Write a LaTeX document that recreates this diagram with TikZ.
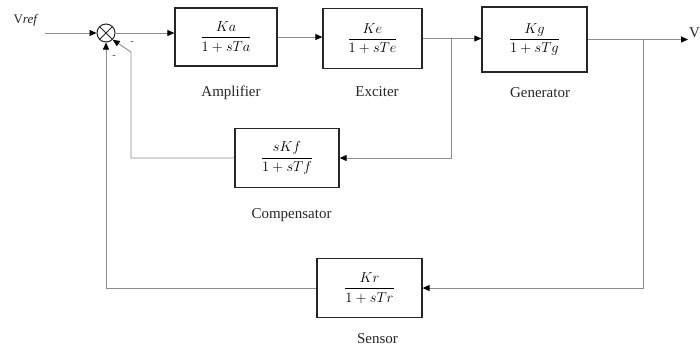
\documentclass[tikz,border=0pt]{standalone}
\usepackage{amsmath}
\usepackage{fontspec}
\setmainfont{Liberation Serif}
\usetikzlibrary{arrows.meta}
\begin{document}
\begin{tikzpicture}[x=1pt,y=-1pt,
  blk/.style={draw=black!85, line width=1.3pt, inner sep=0pt, font=\fontsize{14}{17}\selectfont},
  conn/.style={draw=black!45, line width=0.9pt},
  arr/.style={conn, -{Triangle[length=7pt,width=6pt,fill=black,color=black]}},
  lbl/.style={font=\fontsize{15}{18}\selectfont, text=black!85},
  sgn/.style={font=\fontsize{10}{12}\selectfont, inner sep=0pt, text=black!80},
]
\useasboundingbox (0,0) rectangle (700,348);
% blocks
\node[blk, minimum width=102pt, minimum height=58pt] (amp) at (226,37) {$\dfrac{Ka}{1+sTa}$};
\node[blk, minimum width=99pt, minimum height=60pt] (exc) at (372.5,38.5) {$\dfrac{Ke}{1+sTe}$};
\node[blk, minimum width=105pt, minimum height=65pt] (gen) at (534.5,39.5) {$\dfrac{Kg}{1+sTg}$};
\node[blk, minimum width=104pt, minimum height=59pt] (comp) at (287,158) {$\dfrac{sKf}{1+sTf}$};
\node[blk, minimum width=105pt, minimum height=59pt] (sen) at (369.5,288) {$\dfrac{Kr}{1+sTr}$};
% summing junction
\node[draw=black!85, line width=1pt, circle, minimum size=18pt, inner sep=0pt] (sum) at (106,33) {};
\draw[black!85, line width=1pt] (sum.north west) -- (sum.south east) (sum.north east) -- (sum.south west);
% labels
\node[lbl] (lamp) at (231,93) {Amplifier};
\node[lbl] (lexc) at (377,92) {Exciter};
\node[lbl] (lgen) at (540,93) {Generator};
\node[lbl] (lcomp) at (291.5,215) {Compensator};
\node[lbl] (lsen) at (377.5,339) {Sensor};
\node[font=\fontsize{13}{15}\selectfont, text=black!85] (vref) at (26,20) {V\textit{ref}};
\node[font=\fontsize{15}{18}\selectfont, text=black!85, anchor=west, inner sep=0pt] (vt) at (689,33) {Vt};
\node[sgn] (m1) at (132,43) {-};
\node[sgn] (m2) at (114,57) {-};
% coordinates
\coordinate (in) at (45,33);
\coordinate (b1) at (451,38.5);
\coordinate (b2) at (643,39.5);
\coordinate (out) at (688,39.5);
\coordinate (c1) at (131,52);
% connectors
\draw[arr] (in) -- (sum.west);
\draw[arr] (sum.east) -- (amp.west |- sum.east);
\draw[arr] (amp.east) -- (exc.west |- amp.east);
\draw[arr] (exc.east) -- (gen.west |- exc.east);
\draw[arr] (gen.east) -- (out);
\draw[arr] (b2) |- (sen.east);
\draw[arr] (sen.west) -| (sum.south);
\draw[arr] (b1) |- (comp.east);
\draw[arr] (comp.west) -| (c1) -- (sum.-45);
\end{tikzpicture}
\end{document}
